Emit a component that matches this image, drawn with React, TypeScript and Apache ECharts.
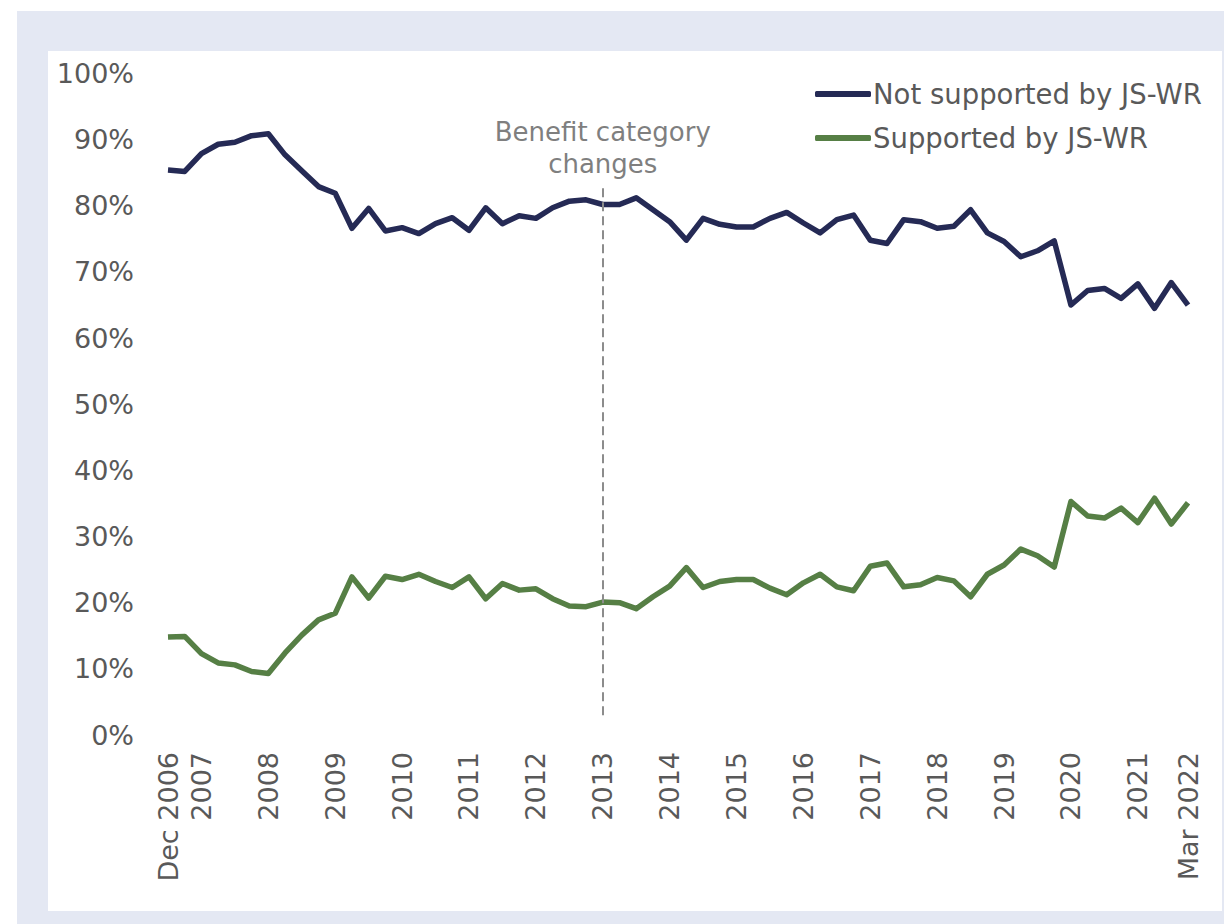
import React, { useEffect, useRef } from "react";
import * as echarts from "echarts";

const categories = [
  "Dec 2006",
  "Mar 2007", "Jun 2007", "Sep 2007", "Dec 2007",
  "Mar 2008", "Jun 2008", "Sep 2008", "Dec 2008",
  "Mar 2009", "Jun 2009", "Sep 2009", "Dec 2009",
  "Mar 2010", "Jun 2010", "Sep 2010", "Dec 2010",
  "Mar 2011", "Jun 2011", "Sep 2011", "Dec 2011",
  "Mar 2012", "Jun 2012", "Sep 2012", "Dec 2012",
  "Mar 2013", "Jun 2013", "Sep 2013", "Dec 2013",
  "Mar 2014", "Jun 2014", "Sep 2014", "Dec 2014",
  "Mar 2015", "Jun 2015", "Sep 2015", "Dec 2015",
  "Mar 2016", "Jun 2016", "Sep 2016", "Dec 2016",
  "Mar 2017", "Jun 2017", "Sep 2017", "Dec 2017",
  "Mar 2018", "Jun 2018", "Sep 2018", "Dec 2018",
  "Mar 2019", "Jun 2019", "Sep 2019", "Dec 2019",
  "Mar 2020", "Jun 2020", "Sep 2020", "Dec 2020",
  "Mar 2021", "Jun 2021", "Sep 2021", "Dec 2021",
  "Mar 2022",
];

const xTickLabels: Record<string, string> = {
  "Dec 2006": "Dec 2006",
  "Jun 2007": "2007",
  "Jun 2008": "2008",
  "Jun 2009": "2009",
  "Jun 2010": "2010",
  "Jun 2011": "2011",
  "Jun 2012": "2012",
  "Jun 2013": "2013",
  "Jun 2014": "2014",
  "Jun 2015": "2015",
  "Jun 2016": "2016",
  "Jun 2017": "2017",
  "Jun 2018": "2018",
  "Jun 2019": "2019",
  "Jun 2020": "2020",
  "Jun 2021": "2021",
  "Mar 2022": "Mar 2022",
};

const notSupported = [
  85.4, 85.2, 87.9, 89.3, 89.6, 90.6, 90.9, 87.7, 85.3, 82.9,
  81.9, 76.6, 79.6, 76.2, 76.7, 75.8, 77.3, 78.2, 76.3, 79.7,
  77.3, 78.5, 78.1, 79.7, 80.7, 80.9, 80.2, 80.2, 81.2, 79.4,
  77.6, 74.8, 78.1, 77.2, 76.8, 76.8, 78.1, 79.0, 77.4, 75.9,
  77.9, 78.6, 74.8, 74.3, 77.9, 77.6, 76.6, 76.9, 79.4, 75.9,
  74.6, 72.3, 73.2, 74.7, 65.0, 67.2, 67.5, 66.0, 68.2, 64.5,
  68.4, 65.0,
];

const supported = [
  14.8, 14.9, 12.3, 10.9, 10.6, 9.6, 9.3, 12.4, 15.1, 17.4,
  18.4, 23.9, 20.7, 24.0, 23.5, 24.3, 23.2, 22.3, 23.9, 20.6,
  22.9, 21.9, 22.1, 20.6, 19.5, 19.4, 20.1, 20.0, 19.1, 20.9,
  22.5, 25.3, 22.3, 23.2, 23.5, 23.5, 22.2, 21.2, 23.0, 24.3,
  22.4, 21.8, 25.5, 26.0, 22.4, 22.7, 23.8, 23.3, 20.9, 24.3,
  25.7, 28.1, 27.1, 25.4, 35.3, 33.1, 32.8, 34.3, 32.1, 35.8,
  31.9, 35.1,
];

const yTicks = { min: 0, max: 100, interval: 10 };
const annotationCategory = "Jun 2013";
const annotationRange = [3, 83];
const annotationText = "Benefit category\nchanges";

const NAVY = "#252a55";
const GREEN = "#567f45";
const FONT = "'DejaVu Sans'";

export default function App() {
  const ref = useRef<HTMLDivElement>(null);

  useEffect(() => {
    if (!ref.current) return;
    const chart = echarts.init(ref.current, null, { renderer: "svg" });
    chart.setOption({
      animation: false,
      backgroundColor: "#ffffff",
      textStyle: { fontFamily: FONT },
      graphic: [
        {
          type: "rect",
          z: -20,
          silent: true,
          shape: { x: 17, y: 11, width: 1207, height: 913 },
          style: { fill: "#e4e8f3" },
        },
        {
          type: "rect",
          z: -19,
          silent: true,
          shape: { x: 48, y: 51, width: 1174, height: 860 },
          style: { fill: "#ffffff" },
        },
      ],
      grid: { left: 168, right: 36, top: 73.5, bottom: 189, containLabel: false },
      legend: {
        orient: "vertical",
        left: 810,
        top: 74,
        icon: "roundRect",
        itemWidth: 56,
        itemHeight: 6,
        itemGap: 14,
        textStyle: {
          fontFamily: FONT,
          fontSize: 27.5,
          color: "#595959",
          lineHeight: 30,
          padding: [0, 0, 0, -3],
        },
        data: ["Not supported by JS-WR", "Supported by JS-WR"],
      },
      xAxis: {
        type: "category",
        boundaryGap: false,
        data: categories,
        axisLine: { show: false },
        axisTick: { show: false },
        splitLine: { show: false },
        axisLabel: {
          rotate: 90,
          margin: 17,
          fontSize: 27,
          fontFamily: FONT,
          color: "#595959",
          interval: (_i: number, value: string) => xTickLabels[value] !== undefined,
          formatter: (value: string) => xTickLabels[value] ?? "",
        },
      },
      yAxis: {
        type: "value",
        min: yTicks.min,
        max: yTicks.max,
        interval: yTicks.interval,
        axisLine: { show: false },
        axisTick: { show: false },
        splitLine: { show: false },
        axisLabel: {
          margin: 34,
          fontSize: 27,
          fontFamily: FONT,
          color: "#595959",
          formatter: "{value}%",
        },
      },
      series: [
        {
          name: "Not supported by JS-WR",
          type: "line",
          data: notSupported,
          symbol: "none",
          showSymbol: false,
          color: NAVY,
          lineStyle: { width: 5.5, color: NAVY, join: "round" },
          z: 3,
          markLine: {
            silent: true,
            symbol: ["none", "none"],
            lineStyle: { color: "#8c8c8c", type: [9, 5], width: 2 },
            label: {
              show: true,
              position: "end",
              distance: 6,
              formatter: annotationText,
              fontFamily: FONT,
              fontSize: 26,
              lineHeight: 32,
              color: "#7f7f7f",
              align: "center",
            },
            data: [
              [
                { coord: [annotationCategory, annotationRange[0]] },
                { coord: [annotationCategory, annotationRange[1]] },
              ],
            ],
          },
        },
        {
          name: "Supported by JS-WR",
          type: "line",
          data: supported,
          symbol: "none",
          showSymbol: false,
          color: GREEN,
          lineStyle: { width: 5.5, color: GREEN, join: "round" },
          z: 3,
        },
      ],
    });
    return () => chart.dispose();
  }, []);

  return (
    <div
      ref={ref}
      style={{ position: "fixed", left: 0, top: 0, width: 1224, height: 924 }}
    />
  );
}
